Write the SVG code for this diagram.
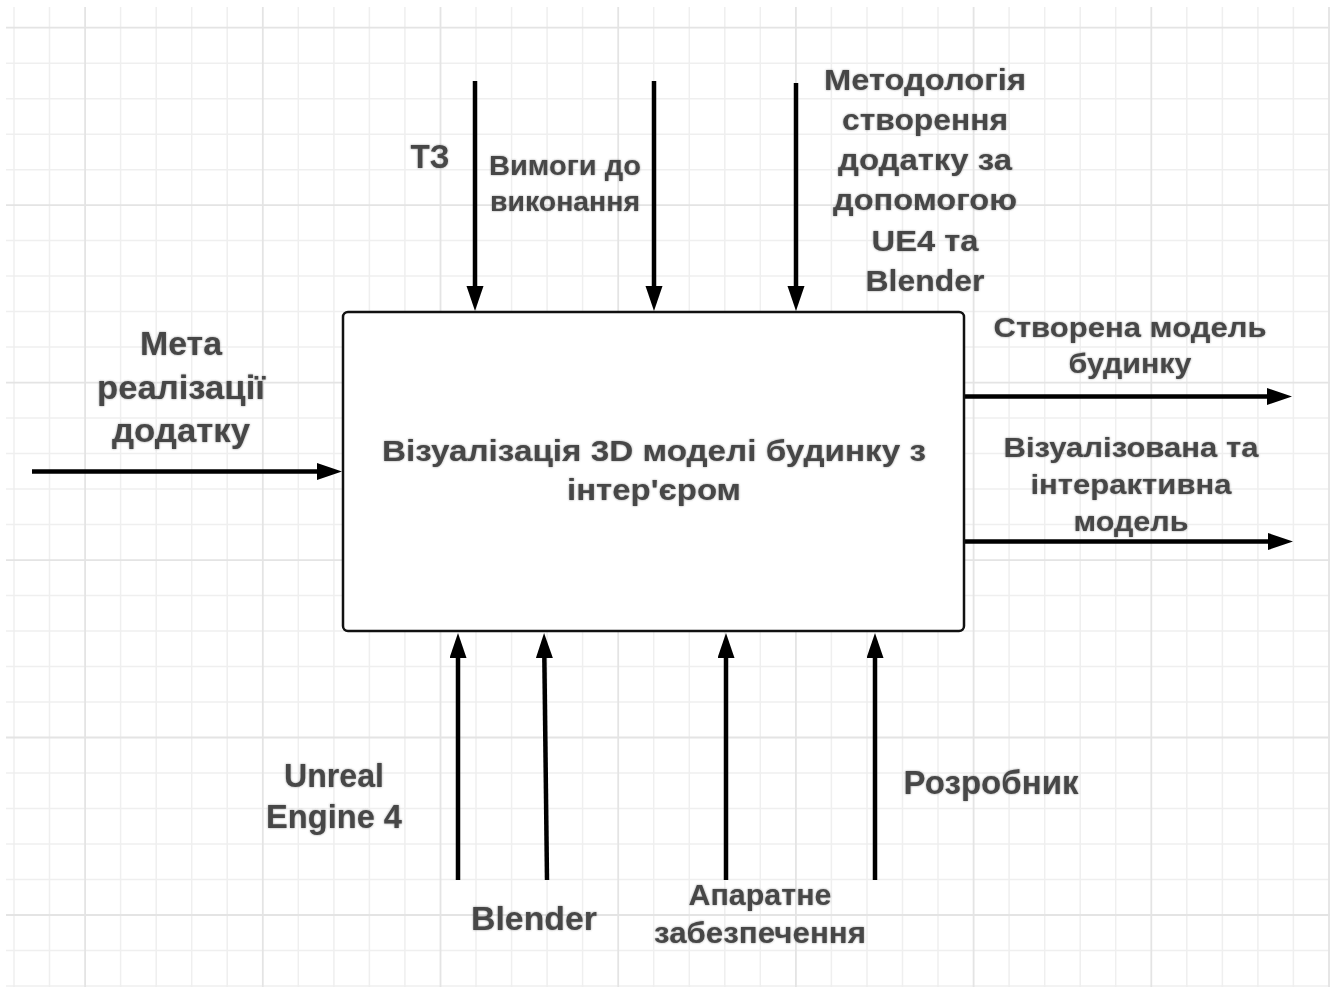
<svg xmlns="http://www.w3.org/2000/svg" width="1335" height="989" viewBox="0 0 1335 989">
<style>
.minor{stroke:#efefef;stroke-width:1.5;fill:none}
.major{stroke:#e4e4e4;stroke-width:1.8;fill:none}
.conn{stroke:#000;stroke-width:4.5;fill:none;marker-end:url(#ah)}
.box{fill:#fff;stroke:#111;stroke-width:2.5}
.t{font-family:"Liberation Sans",Arial,sans-serif;font-weight:bold;fill:#474747;text-anchor:middle;filter:url(#soft)}
</style>
<defs>
<marker id="ah" markerUnits="userSpaceOnUse" markerWidth="26" markerHeight="18" refX="5" refY="8.5" orient="auto" viewBox="0 0 26 18">
<path d="M0,0 L25,8.5 L0,17 z" fill="#000"/>
</marker>
<filter id="soft" x="-5%" y="-20%" width="110%" height="140%">
<feGaussianBlur in="SourceGraphic" stdDeviation="1.2" result="b"/>
<feComponentTransfer in="b" result="bl"><feFuncA type="linear" slope="0.55"/></feComponentTransfer>
<feMerge><feMergeNode in="bl"/><feMergeNode in="SourceGraphic"/></feMerge>
</filter>
</defs>
<rect x="0" y="0" width="1335" height="989" fill="#fff"/>
<g id="grid">
<path class="minor" d="M14,7V987 M49.5,7V987 M120.6,7V987 M156.2,7V987 M191.7,7V987 M227.2,7V987 M298.3,7V987 M333.9,7V987 M369.4,7V987 M404.9,7V987 M476,7V987 M511.6,7V987 M547.1,7V987 M582.6,7V987 M653.7,7V987 M689.3,7V987 M724.8,7V987 M760.3,7V987 M831.4,7V987 M867,7V987 M902.5,7V987 M938,7V987 M1009.1,7V987 M1044.7,7V987 M1080.2,7V987 M1115.7,7V987 M1186.8,7V987 M1222.4,7V987 M1257.9,7V987 M1293.4,7V987
M6,63.2H1330 M6,98.7H1330 M6,134.2H1330 M6,169.7H1330 M6,240.6H1330 M6,276.1H1330 M6,311.6H1330 M6,347.1H1330 M6,418.1H1330 M6,453.6H1330 M6,489.1H1330 M6,524.6H1330 M6,595.5H1330 M6,631H1330 M6,666.5H1330 M6,702H1330 M6,773H1330 M6,808.5H1330 M6,844H1330 M6,879.5H1330 M6,950.4H1330 M6,985.9H1330"/>
<path class="major" d="M85.1,7V987 M262.8,7V987 M440.5,7V987 M618.2,7V987 M795.9,7V987 M973.6,7V987 M1151.3,7V987 M1329,7V987
M6,27.7H1330 M6,205.2H1330 M6,382.6H1330 M6,560.1H1330 M6,737.5H1330 M6,915H1330"/>
</g>
<g id="connectors">
<path class="conn" d="M475,81V291"/>
<path class="conn" d="M654,81V291"/>
<path class="conn" d="M796,83V291"/>
<path class="conn" d="M32,471.5H322"/>
<path class="conn" d="M964,396.5H1272"/>
<path class="conn" d="M964,541.5H1273"/>
<path class="conn" d="M458,880V653"/>
<path class="conn" d="M547,880L544.3,653"/>
<path class="conn" d="M726,880V653"/>
<path class="conn" d="M875,880V653"/>
</g>
<g id="process">
<rect class="box" x="343" y="312" width="621" height="319" rx="5"/>
<text class="t" font-size="30" x="654" y="461" textLength="544" lengthAdjust="spacingAndGlyphs">Візуалізація 3D моделі будинку з</text>
<text class="t" font-size="30" x="654" y="500" textLength="174" lengthAdjust="spacingAndGlyphs">інтер'єром</text>
</g>
<g id="input-meta">
<text class="t" font-size="33" x="181" y="355" textLength="82" lengthAdjust="spacingAndGlyphs">Мета</text>
<text class="t" font-size="33" x="181" y="399" textLength="168" lengthAdjust="spacingAndGlyphs">реалізації</text>
<text class="t" font-size="33" x="181" y="442" textLength="138" lengthAdjust="spacingAndGlyphs">додатку</text>
</g>
<g id="control-tz">
<text class="t" font-size="33" x="430" y="168" textLength="39" lengthAdjust="spacingAndGlyphs">ТЗ</text>
</g>
<g id="control-vymohy">
<text class="t" font-size="27" x="565" y="175" textLength="152" lengthAdjust="spacingAndGlyphs">Вимоги до</text>
<text class="t" font-size="27" x="565" y="211" textLength="150" lengthAdjust="spacingAndGlyphs">виконання</text>
</g>
<g id="control-metodolohiia">
<text class="t" font-size="29" x="925" y="90" textLength="202" lengthAdjust="spacingAndGlyphs">Методологія</text>
<text class="t" font-size="29" x="925" y="130" textLength="166" lengthAdjust="spacingAndGlyphs">створення</text>
<text class="t" font-size="29" x="925" y="170" textLength="174" lengthAdjust="spacingAndGlyphs">додатку за</text>
<text class="t" font-size="29" x="925" y="210" textLength="184" lengthAdjust="spacingAndGlyphs">допомогою</text>
<text class="t" font-size="29" x="925" y="251" textLength="107" lengthAdjust="spacingAndGlyphs">UE4 та</text>
<text class="t" font-size="29" x="925" y="291" textLength="119" lengthAdjust="spacingAndGlyphs">Blender</text>
</g>
<g id="output-model">
<text class="t" font-size="27" x="1130" y="337" textLength="273" lengthAdjust="spacingAndGlyphs">Створена модель</text>
<text class="t" font-size="27" x="1130" y="373" textLength="123" lengthAdjust="spacingAndGlyphs">будинку</text>
</g>
<g id="output-interactive">
<text class="t" font-size="28" x="1131" y="457" textLength="255" lengthAdjust="spacingAndGlyphs">Візуалізована та</text>
<text class="t" font-size="28" x="1131" y="494" textLength="201" lengthAdjust="spacingAndGlyphs">інтерактивна</text>
<text class="t" font-size="28" x="1131" y="531" textLength="115" lengthAdjust="spacingAndGlyphs">модель</text>
</g>
<g id="mech-unreal">
<text class="t" font-size="33" x="334" y="787" textLength="100" lengthAdjust="spacingAndGlyphs">Unreal</text>
<text class="t" font-size="33" x="334" y="828" textLength="136" lengthAdjust="spacingAndGlyphs">Engine 4</text>
</g>
<g id="mech-blender">
<text class="t" font-size="33" x="534" y="930" textLength="126" lengthAdjust="spacingAndGlyphs">Blender</text>
</g>
<g id="mech-hardware">
<text class="t" font-size="29" x="760" y="905" textLength="143" lengthAdjust="spacingAndGlyphs">Апаратне</text>
<text class="t" font-size="29" x="760" y="943" textLength="212" lengthAdjust="spacingAndGlyphs">забезпечення</text>
</g>
<g id="mech-developer">
<text class="t" font-size="33" x="991" y="794" textLength="175" lengthAdjust="spacingAndGlyphs">Розробник</text>
</g>
</svg>
